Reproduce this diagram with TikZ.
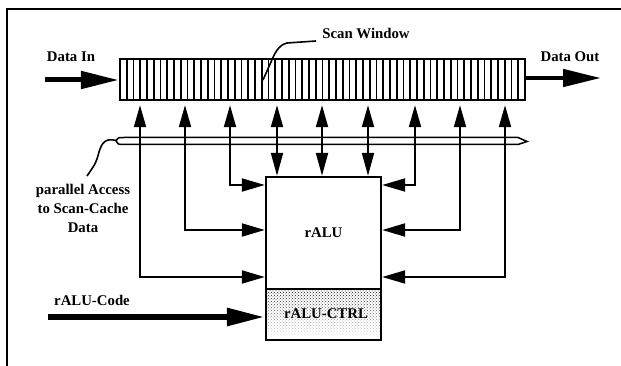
\documentclass[tikz,border=0pt]{standalone}
\usepackage{fontspec}
\setmainfont{Liberation Serif}
\usetikzlibrary{arrows.meta,patterns,fadings}
\tikzfading[name=ctrlfade, top color=transparent!0, bottom color=transparent!100]
\begin{document}
\begin{tikzpicture}[x=1pt,y=-1pt,
  lbl/.style={font=\bfseries\fontsize{14.8}{19}\selectfont, inner sep=0pt},
  frameline/.style={line width=2.2pt},
  boxstyle/.style={draw, line width=2.4pt, inner sep=0pt, rectangle},
  conn/.style={line width=2pt},
  dbl/.style={conn, {Triangle[length=22pt,width=12pt]}-{Triangle[length=23pt,width=12pt]}, shorten <=4pt},
  side/.style={conn, {Triangle[length=22pt,width=12pt]}-{Triangle[length=23pt,width=13pt]}, shorten <=4pt},
  bigarrow/.style={-{Triangle[length=38pt,width=17pt]}},
  leader/.style={line width=1.6pt}
]
\useasboundingbox (0,0) rectangle (621,366);
% frame
\draw[frameline] (621,9) -- (7,9) -- (7,366);

% nodes
\node[boxstyle, minimum width=405pt, minimum height=41pt] (win) at (322.5,79.5) {};
\node[boxstyle, minimum width=115pt, minimum height=112pt] (alu) at (323.5,233) {};
\node[boxstyle, minimum width=115pt, minimum height=51pt] (ctrl) at (323.5,314.5) {};

% stripes of the scan window
\foreach \i in {1,...,59}
  \draw[line width=1.8pt] ({120+\i*6.75},60) -- ({120+\i*6.75},99);

% control box stipple
\fill[pattern=crosshatch dots, pattern color=black, path fading=ctrlfade]
  ([shift={(2pt,-2pt)}]ctrl.north west) rectangle ([shift={(-2pt,2pt)}]ctrl.south east);
\node[boxstyle, minimum width=115pt, minimum height=51pt] at (ctrl) {};

% labels
\node[lbl] (din) at (71,57) {Data In};
\node[lbl] (dout) at (570,57) {Data Out};
\node[lbl] (sw) at (366,33) {Scan Window};
\node[lbl] (alut) at (alu) {rALU};
\node[lbl] (ctrlt) at (326,314) {rALU-CTRL};
\node[lbl] (code) at (92,300) {rALU-Code};
\node[lbl, align=center] (pa) at (83,208) {parallel Access\\to Scan-Cache\\Data};

% big arrows
\coordinate (ain) at (45,80);
\coordinate (aout) at (601,78);
\coordinate (acode) at (48,317);
\draw[bigarrow, line width=5pt] (ain) -- (ain -| win.west);
\draw[bigarrow, line width=4.5pt] (aout -| win.east) -- (aout);
\draw[bigarrow, line width=6pt] (acode) -- (acode -| ctrl.west);

% scan window leader
\coordinate (swl) at (316,41);
\draw[leader] (swl) -- (287,43) .. controls (278,45) and (274,55) .. (271,62) -- (263,80);

% bus lens
\coordinate (lensL) at (116,140.5);
\draw[line width=1.5pt] (lensL) .. controls (118,137.5) .. (124,137.5) -- (518,137.5) -- (527,141.5)
  -- (518,144.5) -- (124,144.5) .. controls (118,144.5) .. (lensL);
% parallel access leader
\draw[leader] (lensL) .. controls (106,138) and (102,142) .. (99,152) .. controls (96,163) .. (87,176);

% connector columns
\foreach \n/\x in {1/140,2/185,3/230,4/277,5/322,6/368,7/415,8/460,9/505}
  \coordinate (c\n) at (\x,0);
\coordinate (r1) at (0,185);
\coordinate (r2) at (0,230);
\coordinate (r3) at (0,277);

% left side
\draw[side] (c3 |- win.south) |- (r1 -| alu.west);
\draw[side] (c2 |- win.south) |- (r2 -| alu.west);
\draw[side] (c1 |- win.south) |- (r3 -| alu.west);
% middle
\draw[dbl] (c4 |- win.south) -- (c4 |- alu.north);
\draw[dbl] (c5 |- win.south) -- (c5 |- alu.north);
\draw[dbl] (c6 |- win.south) -- (c6 |- alu.north);
% right side
\draw[side] (c7 |- win.south) |- (r1 -| alu.east);
\draw[side] (c8 |- win.south) |- (r2 -| alu.east);
\draw[side] (c9 |- win.south) |- (r3 -| alu.east);
\end{tikzpicture}
\end{document}
